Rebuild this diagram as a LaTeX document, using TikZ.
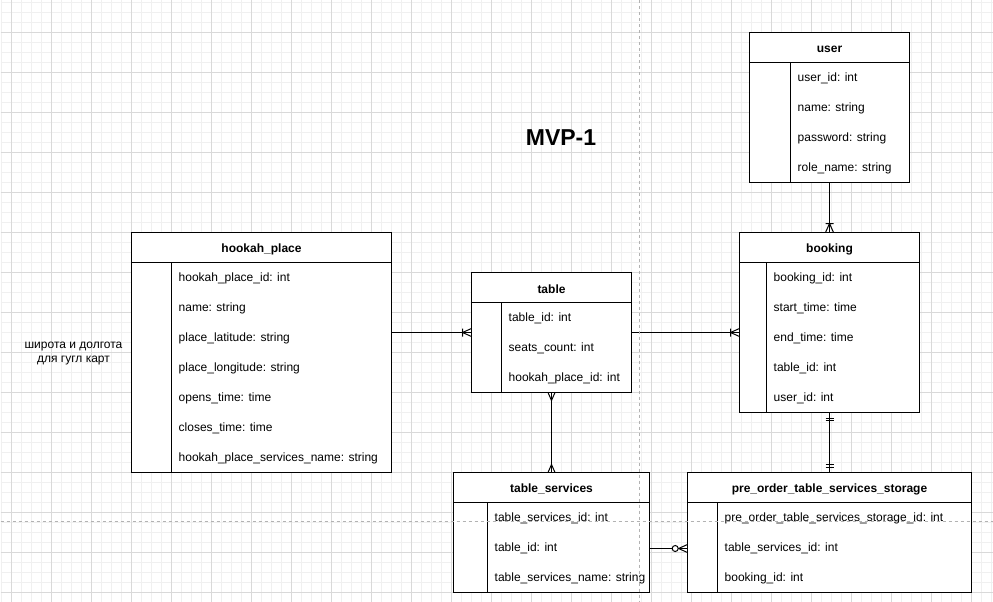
\documentclass[tikz,border=0pt]{standalone}
\usepackage{fontspec}
\setmainfont{Liberation Sans}
\usetikzlibrary{decorations.markings}
\tikzset{
  ln/.style={draw=black, line width=1pt},
  minorgrid/.style={draw=black!6, line width=1pt},
  majorgrid/.style={draw=black!15, line width=1pt},
  pagebreak/.style={draw=black!30, line width=1pt, dash pattern=on 3pt off 3pt},
  entbox/.style={draw=black, fill=white, line width=1pt, inner sep=0pt, outer sep=0pt},
  enttitle/.style={font=\bfseries\fontsize{12}{14}\selectfont, inner sep=1pt, yshift=-1.5pt},
  entrow/.style={anchor=west, font=\fontsize{12}{14}\selectfont, inner sep=1pt, yshift=-1pt},
  notetext/.style={align=center, font=\fontsize{12}{14.5}\selectfont, inner sep=1pt},
  onemanyend/.style={postaction={decorate,decoration={markings,mark=at position 1 with {\draw[ln] (-9,0) -- (0,4) (-9,0) -- (0,-4) (-9,4) -- (-9,-4);}}}},
  manyend/.style={postaction={decorate,decoration={markings,mark=at position 1 with {\draw[ln] (-8,0) -- (0,3.5) (-8,0) -- (0,-3.5);}}}},
  manystart/.style={postaction={decorate,decoration={markings,mark=at position 0 with {\draw[ln] (8,0) -- (0,3.5) (8,0) -- (0,-3.5);}}}},
  mandoneend/.style={postaction={decorate,decoration={markings,mark=at position 1 with {\draw[ln] (-5.5,4) -- (-5.5,-4) (-8,4) -- (-8,-4);}}}},
  mandonestart/.style={postaction={decorate,decoration={markings,mark=at position 0 with {\draw[ln] (5.5,4) -- (5.5,-4) (8,4) -- (8,-4);}}}},
  zeromanyend/.style={postaction={decorate,decoration={markings,mark=at position 1 with {\draw[ln] (-9,0) -- (0,4) (-9,0) -- (0,-4); \draw[ln, fill=white] (-12.3,0) circle[radius=3pt];}}}},
}
\newcommand\entity[8]{%
  \node[entbox, anchor=north west, minimum width={(#4-#2)*1pt}, minimum height={(#5-#3)*1pt}] (#1) at (#2,#3) {};
  \draw[ln] (#2,#3+30) -- (#4,#3+30);
  \draw[ln] (#6,#3+30) -- (#6,#5);
  \node[enttitle] (#1-t) at ({(#2+#4)/2},#3+15) {#7};
  \foreach \t [count=\i] in {#8} {\node[entrow] (#1-\i) at (#6+6,#3+15+30*\i) {\t};}
}
\begin{document}
\begin{tikzpicture}[x=1pt,y=-1pt]
\useasboundingbox (0,0) rectangle (993,602);
\fill[white] (0,0) rectangle (993,602);
\begin{scope}[shift={(0.5,0.5)}]
% grid
\foreach \k in {0,...,99} \draw[minorgrid] (1+10*\k,0) -- (1+10*\k,602);
\foreach \k in {0,...,60} \draw[minorgrid] (0,2+10*\k) -- (993,2+10*\k);
\foreach \k in {0,...,24} \draw[majorgrid] (11+40*\k,0) -- (11+40*\k,602);
\foreach \k in {0,...,14} \draw[majorgrid] (0,32+40*\k) -- (993,32+40*\k);
% entities
\entity{usr}{749}{32}{909}{182}{790}{user}{user\_id: int, name: string, password: string, role\_name: string}
\entity{bk}{739}{232}{919}{412}{766}{booking}{booking\_id: int, start\_time: time, end\_time: time, table\_id: int, user\_id: int}
\entity{hp}{131}{232}{391}{472}{171}{hookah\_place}{hookah\_place\_id: int, name: string, place\_latitude: string, place\_longitude: string, opens\_time: time, closes\_time: time, hookah\_place\_services\_name: string}
\entity{tbl}{471}{272}{631}{392}{501}{table}{table\_id: int, seats\_count: int, hookah\_place\_id: int}
\entity{ts}{453}{472}{649}{592}{487}{table\_services}{table\_services\_id: int, table\_id: int, table\_services\_name: string}
\entity{pre}{687}{472}{971}{592}{717}{pre\_order\_table\_services\_storage}{pre\_order\_table\_services\_storage\_id: int, table\_services\_id: int, booking\_id: int}
% title and note
\node[font=\bfseries\fontsize{23}{26}\selectfont, inner sep=1pt] (ttl) at (560.5,137) {MVP-1};
\node[notetext] (nt) at (73,353) {широта и долгота\\для гугл карт};
% connectors
\draw[ln, onemanyend] (hp.east |- tbl.west) -- (tbl.west);
\draw[ln, onemanyend] (tbl.east) -- (bk.west |- tbl.east);
\draw[ln, onemanyend] (usr.south) -- (usr.south |- bk.north);
\draw[ln, manystart, manyend] (tbl.south) -- (tbl.south |- ts.north);
\draw[ln, mandonestart, mandoneend] (bk.south) -- (bk.south |- pre.north);
\draw[ln, zeromanyend] (ts.east |- ts-2) -- (pre.west |- ts-2);
% page breaks
\draw[pagebreak] (639,0) -- (639,602);
\draw[pagebreak] (0,521) -- (993,521);
\end{scope}
\end{tikzpicture}
\end{document}
